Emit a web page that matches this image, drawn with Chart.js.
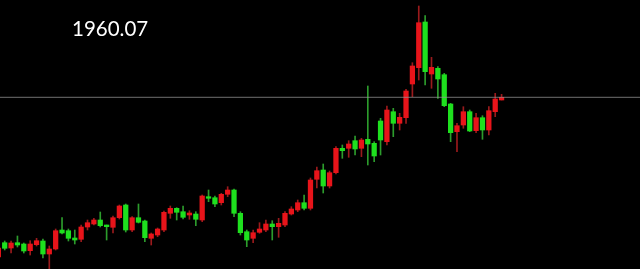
<!DOCTYPE html>
<html>
<head>
<meta charset="utf-8">
<script src="https://cdn.jsdelivr.net/npm/chart.js@4"></script>
<style>
  html,body{margin:0;padding:0;background:#000;overflow:hidden;}
  #wrap{position:relative;width:640px;height:269px;background:#000;}
  #label{position:absolute;left:72px;top:16px;font-family:Lato,"Open Sans",sans-serif;font-size:20.5px;color:#fff;}
  canvas{display:block;}
</style>
</head>
<body>
<div id="wrap">
  <canvas id="c" width="640" height="269"></canvas>
  <div id="label"></div>
</div>
<script>
// Period label shown at top-left
const periodLabel = '1960.07';

// Candle index 0..79 (monthly candles, arbitrary price units)
const opens  = [12,26.3,21,26.3,25,18.3,24.3,28,15,20,39,38.3,31,29.7,42,45,49,44,41.7,51.3,
                64,39,51.3,48,30.7,34,39,55.7,60.7,57.3,54,55,49,72.3,71.3,66.3,74.7,79,55.7,37.3,
                30.7,36.7,39,45,42.3,44,55,59,66.3,60.7,89.7,99,83,96.3,120.7,120.7,128.3,120.7,129.7,125.7,
                148,127.3,157.3,145.7,151.3,185,201.3,247,195,200.7,194.3,165,137.3,144,157.3,138.3,151.3,139,157.3,169];
const closes = [21,20.7,26,24,18,25,28.3,15,20,38.3,36,30.7,29,42,46.3,49,43.3,42.3,51.3,63,
                39,51.3,46.7,31.3,35,40,56.7,60.7,56.7,51.7,56,49.7,73,70.7,65,74.7,79,55.7,36.3,29,
                36.3,40,45,42.3,45.7,55.7,60,66.3,60.7,89,98.3,83,96.3,120.7,118.3,125,120,129,125,113,
                129,159,145.7,151.7,178,203,246.3,197.3,201.7,190,163.3,136.3,143.3,157.3,138,151.3,139,158.3,170,171.7];
const highs  = [23,28,28,33,26,28.3,30.7,30,23,40,51.3,40,39,44,49,50.7,57,44,53,64,
                65,52.3,65,49,36,41,58,63,61.3,63,58.3,57.3,74,79,73,75.7,82.3,80,57.3,39,
                39,46.3,49,48.3,50.7,57.3,62.3,69,74,91,102,105,98,122.3,124,128.3,133,130.7,183,127.3,
                150.7,163,160.7,155.7,179.7,206.3,263,253.3,211.7,202.3,195.7,165.7,145.7,162.3,159,155.7,153.3,162.3,175.7,174.7];
const lows   = [9,19,16,22,16,14,23,11,-3,19,35,28,25,27.3,39,44,42,29,36,50,
                37,37.3,46,27.3,24,32.3,37.3,50.7,49,50,49.7,43.3,47.3,67.3,62.3,64,72.3,52.3,34,22.3,
                26.3,35.7,37.3,29,31.7,42.3,54,57.3,59,59,81,76,81,95,110.7,111.7,114,112.3,104,107.3,
                114,124,132.3,139,145.7,172.3,189,184,180.7,170.7,162.3,127.3,117.3,140.7,137.3,136.3,129.7,134,152.3,169];

const UP_BODY = '#e8141a', DOWN_BODY = '#1ee01e';
const UP_WICK = '#9a1a1c', DOWN_WICK = '#2c9c2c';
const X_MIN = 0.262, X_MAX = 100.73;

document.getElementById('label').textContent = periodLabel;

const isUp = opens.map((o, i) => closes[i] >= o);
const lastClose = closes[closes.length - 1];

new Chart(document.getElementById('c'), {
  type: 'bar',
  data: {
    datasets: [
      {
        type: 'line',
        data: [{x: X_MIN, y: lastClose}, {x: X_MAX, y: lastClose}],
        borderColor: 'rgba(150,150,150,0.75)',
        borderWidth: 1,
        pointRadius: 0,
        order: 0
      },
      {
        data: opens.map((o, i) => ({x: i, y: [o, closes[i]]})),
        backgroundColor: isUp.map(u => u ? UP_BODY : DOWN_BODY),
        barThickness: 4.6,
        grouped: false,
        borderWidth: 0,
        minBarLength: 1,
        order: 1
      },
      {
        data: highs.map((h, i) => ({x: i, y: [lows[i], h]})),
        backgroundColor: isUp.map(u => u ? UP_WICK : DOWN_WICK),
        barThickness: 1,
        grouped: false,
        borderWidth: 0,
        order: 2
      }
    ]
  },
  options: {
    responsive: false,
    animation: false,
    layout: {padding: 0},
    plugins: {legend: {display: false}, tooltip: {enabled: false}, title: {display: false}},
    scales: {
      x: {type: 'linear', min: X_MIN, max: X_MAX, display: false, offset: false},
      y: {min: 0, max: 269, display: false}
    }
  }
});
</script>
</body>
</html>
